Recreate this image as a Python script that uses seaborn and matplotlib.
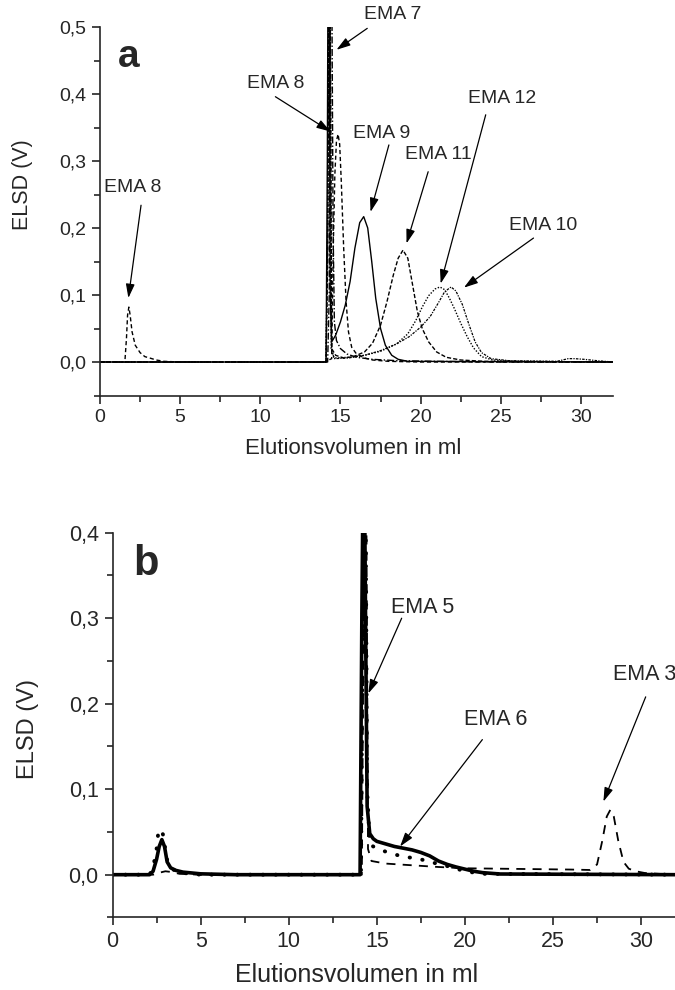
import matplotlib
matplotlib.use("Agg")
import matplotlib.pyplot as plt
import seaborn as sns
import pandas as pd
from matplotlib.ticker import MultipleLocator, FuncFormatter

# ---------------- data: panel a ----------------
ema8_x = [0, 1.55, 1.65, 1.72, 1.8, 1.88, 2.0, 2.2, 2.5, 2.8, 3.1, 3.5, 4.0, 5.0, 14.0, 14.45, 14.55, 14.65,
          14.75, 14.85, 14.95, 15.05, 15.2, 15.35, 15.5, 15.7, 16.0, 16.5, 17.0, 18.0, 20.0, 25.0, 32.0]
ema8_y = [0, 0, 0.035, 0.07, 0.082, 0.07, 0.045, 0.025, 0.014, 0.008, 0.006, 0.003, 0.001, 0, 0, 0.005, 0.17, 0.28,
          0.33, 0.34, 0.325, 0.27, 0.17, 0.09, 0.045, 0.022, 0.012, 0.006, 0.003, 0.001, 0, 0, 0]

ema9_x = [0, 14.1, 14.18, 14.22, 14.3, 14.36, 14.45, 14.7, 15.0, 15.3, 15.6, 15.9, 16.2, 16.45, 16.7, 16.95,
          17.2, 17.5, 17.8, 18.2, 18.6, 19.2, 32]
ema9_y = [0, 0, 0.3, 0.56, 0.56, 0.1, 0.03, 0.04, 0.06, 0.085, 0.12, 0.17, 0.208, 0.217, 0.2, 0.15,
          0.095, 0.05, 0.025, 0.01, 0.004, 0.001, 0]

ema11_x = [0, 14.1, 14.2, 14.28, 14.36, 14.45, 14.7, 15.2, 15.8, 16.5, 17.0, 17.5, 17.9, 18.3, 18.6, 18.9,
           19.2, 19.5, 19.8, 20.1, 20.5, 21.0, 21.6, 22.5, 24, 32]
ema11_y = [0, 0, 0.15, 0.56, 0.56, 0.02, 0.01, 0.006, 0.008, 0.015, 0.028, 0.055, 0.09, 0.13, 0.155, 0.167,
           0.155, 0.115, 0.075, 0.05, 0.03, 0.015, 0.007, 0.003, 0.001, 0]

ema12_x = [0, 14.1, 14.2, 14.26, 14.34, 14.42, 14.6, 15.5, 16.5, 17.5, 18.5, 19.2, 19.7, 20.1, 20.5, 20.9,
           21.2, 21.5, 21.8, 22.1, 22.5, 22.9, 23.3, 23.8, 24.5, 26, 32]
ema12_y = [0, 0, 0.2, 0.56, 0.56, 0.02, 0.006, 0.007, 0.01, 0.016, 0.027, 0.042, 0.062, 0.082, 0.099, 0.109,
           0.112, 0.108, 0.095, 0.08, 0.058, 0.038, 0.021, 0.008, 0.003, 0.001, 0]

ema10_x = [0, 14.1, 14.2, 14.28, 14.36, 14.44, 14.6, 15.5, 16.5, 17.5, 18.5, 19.3, 20.0, 20.6, 21.1, 21.5,
           21.9, 22.2, 22.6, 23.0, 23.4, 23.8, 24.4, 25.5, 28.5, 29.2, 29.6, 30.2, 31, 32]
ema10_y = [0, 0, 0.2, 0.56, 0.56, 0.02, 0.005, 0.006, 0.01, 0.017, 0.027, 0.038, 0.052, 0.068, 0.088, 0.105,
           0.112, 0.106, 0.086, 0.057, 0.03, 0.014, 0.005, 0.002, 0.001, 0.005, 0.005, 0.004, 0.002, 0]

ema7_x = [0, 14.2, 14.3, 14.36, 14.46, 14.54, 14.62, 14.75, 15.0, 15.4, 16.0, 17.0, 18.5, 21, 25, 32]
ema7_y = [0, 0, 0.1, 0.56, 0.56, 0.2, 0.06, 0.032, 0.02, 0.012, 0.007, 0.004, 0.002, 0.001, 0, 0]

# ---------------- data: panel b ----------------
ema5_x = [0, 2.1, 2.3, 2.5, 2.65, 2.8, 2.95, 3.1, 3.3, 3.6, 4.0, 5.0, 7.0, 14.05, 14.15, 14.22, 14.3, 14.38,
          14.45, 14.6, 14.8, 15.0, 15.5, 16.0, 16.5, 17.0, 17.5, 18.0, 18.5, 19.0, 19.5, 20.0, 20.5, 21.0, 22.0, 32]
ema5_y = [0, 0, 0.004, 0.018, 0.033, 0.041, 0.033, 0.015, 0.008, 0.005, 0.003, 0.001, 0, 0, 0.3, 0.46, 0.46, 0.25,
          0.08, 0.048, 0.042, 0.039, 0.036, 0.033, 0.031, 0.029, 0.026, 0.022, 0.016, 0.012, 0.009, 0.0065, 0.004,
          0.0024, 0.0008, 0]

ema6_x = [0, 2.1, 2.3, 2.5, 2.6, 2.75, 2.9, 3.05, 3.3, 3.6, 4.0, 5.0, 14.1, 14.2, 14.28, 14.36, 14.45, 14.6,
          15.2, 15.8, 16.5, 17.3, 18.4, 19.2, 20.0, 21.0, 32]
ema6_y = [0, 0, 0.008, 0.03, 0.05, 0.053, 0.045, 0.02, 0.008, 0.004, 0.002, 0, 0, 0.3, 0.46, 0.46, 0.1, 0.035,
          0.029, 0.025, 0.021, 0.019, 0.013, 0.009, 0.004, 0.001, 0]

ema3_x = [0, 2.3, 2.6, 3.0, 3.4, 3.8, 5, 14.15, 14.25, 14.32, 14.4, 14.5, 14.7, 15.5, 17, 18.5, 20, 22, 24, 26,
          27.1, 27.5, 27.8, 28.05, 28.25, 28.45, 28.7, 29.0, 29.3, 29.7, 30.2, 31, 32]
ema3_y = [0, 0, 0.002, 0.004, 0.003, 0.001, 0, 0, 0.3, 0.46, 0.46, 0.03, 0.016, 0.013, 0.011, 0.009, 0.0075,
          0.007, 0.0065, 0.006, 0.0055, 0.012, 0.04, 0.068, 0.0758, 0.068, 0.04, 0.015, 0.007, 0.004, 0.002,
          0.001, 0]

xlabel = "Elutionsvolumen in ml"
ylabel = "ELSD (V)"

# annotations: (label, text_xy, arrow_tail, arrow_head, ha)
ann_a = [
    ("EMA 8", (2.06, 0.26), (2.56, 0.234), (1.77, 0.0955), "center"),
    ("EMA 7", (18.28, 0.518), (16.67, 0.498), (14.75, 0.466), "center"),
    ("EMA 8", (10.99, 0.416), (10.94, 0.396), (14.38, 0.344), "center"),
    ("EMA 9", (17.55, 0.341), (18.02, 0.324), (16.875, 0.224), "center"),
    ("EMA 11", (21.1, 0.309), (20.47, 0.284), (19.12, 0.177), "center"),
    ("EMA 12", (25.1, 0.393), (24.06, 0.369), (21.25, 0.117), "center"),
    ("EMA 10", (27.66, 0.204), (27.04, 0.185), (22.7, 0.111), "center"),
]
ann_b = [
    ("EMA 5", (17.59, 0.313), (16.41, 0.300), (14.52, 0.212), "center"),
    ("EMA 6", (21.75, 0.182), (20.99, 0.158), (16.32, 0.033), "center"),
    ("EMA 3", (28.4, 0.234), (30.26, 0.208), (27.86, 0.0855), "left"),
]

# ---------------- style ----------------
sns.set_style("ticks")
plt.rcParams["font.family"] = ["Liberation Sans", "DejaVu Sans"]
plt.rcParams["axes.linewidth"] = 1.2

fig = plt.figure(figsize=(6.75, 9.9), dpi=100)
ax1 = fig.add_axes([0.14815, 0.6005, 0.760, 0.3722])
ax2 = fig.add_axes([0.1667, 0.0733, 0.8353, 0.3886])

comma = FuncFormatter(lambda v, p: f"{v:.1f}".replace(".", ","))
intfmt = FuncFormatter(lambda v, p: f"{v:.0f}")


def draw(ax, x, y, **kw):
    df = pd.DataFrame({"x": x, "y": y})
    sns.lineplot(data=df, x="x", y="y", ax=ax, estimator=None, sort=False, color="black", **kw)


# panel a curves
draw(ax1, ema9_x, ema9_y, lw=1.0)
draw(ax1, ema8_x, ema8_y, lw=1.0, linestyle=(0, (3, 2)))
draw(ax1, ema11_x, ema11_y, lw=1.0, linestyle=(0, (3, 1.5)))
draw(ax1, ema12_x, ema12_y, lw=1.0, linestyle=(0, (1, 1.2)))
draw(ax1, ema10_x, ema10_y, lw=0.9, linestyle=(0, (2, 1, 1, 1)))
draw(ax1, ema7_x, ema7_y, lw=1.0, linestyle=(0, (5, 1.5, 1, 1.5)))

# panel b curves
draw(ax2, ema3_x, ema3_y, lw=1.3, linestyle=(0, (5, 4)))
l6 = draw(ax2, ema6_x, ema6_y, lw=2.8, linestyle=(0, (0.1, 3.2)), dash_capstyle="round")
draw(ax2, ema5_x, ema5_y, lw=2.6)


def style(ax, ymax, tsize, xlsize, ylsize, ylab_pos, xlab_pos):
    ax.set_xlim(0, 32)
    ax.set_ylim(-0.05, ymax)
    ax.xaxis.set_major_locator(MultipleLocator(5))
    ax.xaxis.set_minor_locator(MultipleLocator(2.5))
    ax.yaxis.set_major_locator(MultipleLocator(0.1))
    ax.yaxis.set_minor_locator(MultipleLocator(0.05))
    ax.yaxis.set_major_formatter(comma)
    ax.xaxis.set_major_formatter(intfmt)
    ax.set_yticks([v / 10 for v in range(0, int(round(ymax * 10)) + 1)])
    ax.tick_params(which="major", direction="out", length=6, width=1.2, labelsize=tsize, pad=4)
    ax.tick_params(which="minor", direction="out", length=4, width=1.2)
    for s in ["top", "right"]:
        ax.spines[s].set_visible(False)
    ax.set_xlabel(xlabel, fontsize=xlsize)
    ax.set_ylabel(ylabel, fontsize=ylsize)
    ax.yaxis.set_label_coords(*ylab_pos)
    ax.xaxis.set_label_coords(*xlab_pos)
    ax.xaxis.label.set_va("center")
    ax.yaxis.label.set_va("center")


style(ax1, 0.5, 14, 16, 15.5, (-0.152, 0.571), (0.493, -0.145))
style(ax2, 0.4, 15.5, 18, 17, (-0.150, 0.49), (0.432, -0.150))


def annotate(ax, items, fs):
    for lab, txy, tail, head, ha in items:
        ax.text(txy[0], txy[1], lab, fontsize=fs, ha=ha, va="center", clip_on=False)
        ax.annotate("", xy=head, xytext=tail,
                    arrowprops=dict(arrowstyle="-|>,head_length=0.7,head_width=0.22", color="black",
                                    lw=0.9, shrinkA=0, shrinkB=0, mutation_scale=12),
                    annotation_clip=False)


annotate(ax1, ann_a, 14)
annotate(ax2, ann_b, 15.5)

ax1.text(1.1, 0.44, "a", fontsize=28, fontweight="bold", ha="left", va="baseline")
ax2.text(1.15, 0.350, "b", fontsize=30, fontweight="bold", ha="left", va="baseline")

fig.savefig("out.png", dpi=100)
